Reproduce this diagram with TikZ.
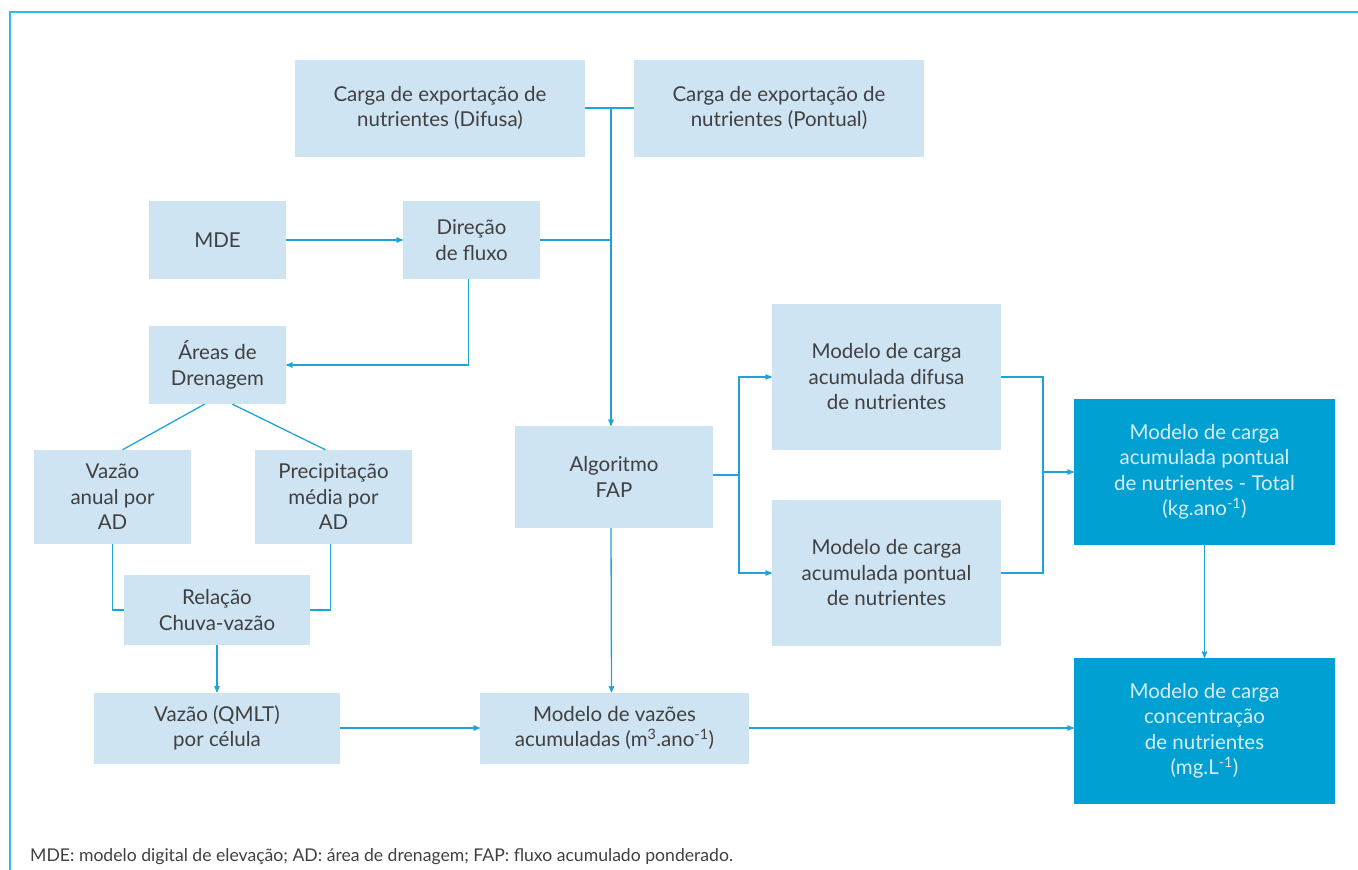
\documentclass[tikz,border=0pt]{standalone}
\usepackage{fontspec}
\setmainfont{Lato}
\usepackage{tikz}
\usetikzlibrary{arrows}

\definecolor{boxlight}{RGB}{207,228,243}
\definecolor{boxdark}{RGB}{0,160,211}
\definecolor{linkblue}{RGB}{30,164,218}
\definecolor{frameblue}{RGB}{50,185,230}
\definecolor{textgrey}{RGB}{64,64,64}
\definecolor{textwhite}{RGB}{215,238,248}

\begin{document}
\begin{tikzpicture}
	[x=1pt,y=-1pt,
	 lightbox/.style={fill=boxlight,text=textgrey,align=center,inner sep=0pt,
	   font=\fontsize{20.5}{25.5}\selectfont},
	 darkbox/.style={lightbox,fill=boxdark,text=textwhite},
	 link/.style={draw=linkblue,line width=1.3pt},
	 arrow/.style={link,-stealth'}]
\useasboundingbox (0,0) rectangle (1358,870);
% frame: only the top and left sides are seen
\draw[frameblue,line width=2pt] (10,870) -- (10,12) -- (1358,12);

\node[lightbox,minimum width=290,minimum height=97] (difusa) at (440,108) {Carga de exportação de\\nutrientes (Difusa)};
\node[lightbox,minimum width=290,minimum height=97] (pontual) at (779,108) {Carga de exportação de\\nutrientes (Pontual)};
\node[lightbox,minimum width=137,minimum height=78] (mde) at (217.5,240) {MDE};
\node[lightbox,minimum width=137,minimum height=78] (direcao) at (471.5,240) {Direção\\de fluxo};
\node[lightbox,minimum width=137,minimum height=78] (areas) at (217.5,365) {Áreas de\\Drenagem};
\node[lightbox,minimum width=157,minimum height=94] (vazao) at (112.5,497) {Vazão\\anual por\\AD};
\node[lightbox,minimum width=157,minimum height=94] (precip) at (333.5,497) {Precipitação\\média por\\AD};
\node[lightbox,minimum width=186,minimum height=70] (relacao) at (217,610) {Relação\\Chuva-vazão};
\node[lightbox,minimum width=246,minimum height=71] (qmlt) at (217,728) {Vazão (QMLT)\\por célula};
\node[lightbox,minimum width=198,minimum height=102] (fap) at (614,477) {Algoritmo\\FAP};
\node[lightbox,minimum width=269,minimum height=71] (vazoes) at (614.5,728) {Modelo de vazões\\acumuladas (m\textsuperscript{3}.ano\textsuperscript{-1})};
\node[lightbox,minimum width=229,minimum height=146] (cdif) at (886.5,377) {Modelo de carga\\acumulada difusa\\de nutrientes};
\node[lightbox,minimum width=229,minimum height=146] (cpon) at (886.5,573) {Modelo de carga\\acumulada pontual\\de nutrientes};
\node[darkbox,minimum width=261,minimum height=146] (total) at (1204.5,472) {Modelo de carga\\acumulada pontual\\de nutrientes - Total\\(kg.ano\textsuperscript{-1})};
\node[darkbox,minimum width=261,minimum height=146] (conc) at (1204.5,731) {Modelo de carga\\concentração\\de nutrientes\\(mg.L\textsuperscript{-1})};

\coordinate (topj) at (611,108);
\coordinate (fork) at (739,475);
\coordinate (join) at (1043,472);

\draw[link] (difusa.east) -- (pontual.west);
\draw[arrow] (topj) -- (topj |- fap.north);
\draw[arrow] (mde) -- (direcao);
\draw[link] (direcao.east) -- (direcao.east -| topj);
\draw[arrow] ([xshift=-3]direcao.south) |- (areas.east);
\draw[link] ([xshift=-13]areas.south) -- ([xshift=10]vazao.north);
\draw[link] ([xshift=15]areas.south) -- ([xshift=-8]precip.north);
\draw[link] (vazao.south) |- (relacao.west);
\draw[link] ([xshift=-3]precip.south) |- (relacao.east);
\draw[arrow] (relacao) -- (qmlt);
\draw[arrow] (qmlt) -- (vazoes);
\draw[arrow] ([xshift=-3]fap.south) -- ([xshift=-3]vazoes.north);
\draw[link] (fap.east |- fork) -- (fork);
\draw[arrow] (fork) |- (cdif.west);
\draw[arrow] (fork) |- (cpon.west);
\draw[link] (cdif.east) -| (join) |- (cpon.east);
\draw[arrow] (join) -- (join -| total.west);
\draw[arrow] (total) -- (conc);
\draw[arrow] (vazoes.east) -- (vazoes.east -| conc.west);

\node[anchor=base west,text=textgrey,inner sep=0pt,font=\fontsize{17.6}{20}\selectfont] (nota) at (30,861)
  {MDE: modelo digital de elevação; AD: área de drenagem; FAP: fluxo acumulado ponderado.};
\end{tikzpicture}
\end{document}
